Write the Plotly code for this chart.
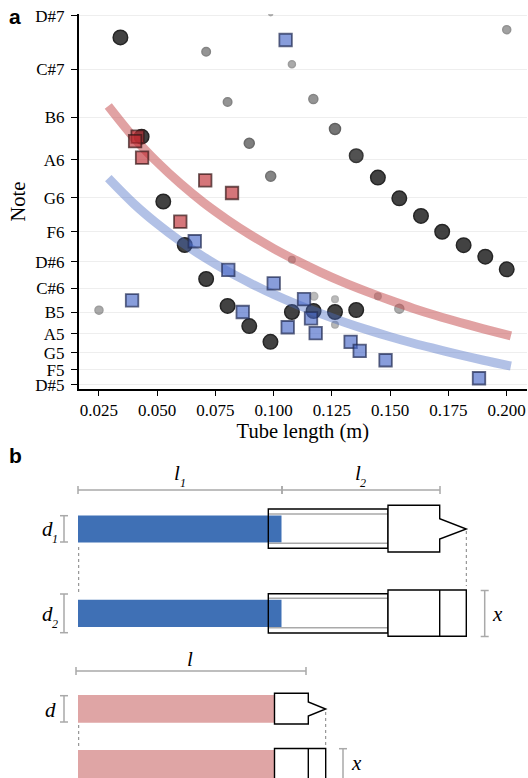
import plotly.graph_objects as go

# ---------- panel a data ----------
note_labels = ["D#5", "F5", "G5", "A5", "B5", "C#6", "D#6", "F6", "G6", "A6", "B6", "C#7", "D#7"]
note_freqs = [622, 698.5, 784, 880, 988, 1109, 1245, 1397, 1568, 1760, 1975.5, 2217.5, 2489]
length_ticks = [0.025, 0.05, 0.075, 0.1, 0.125, 0.15, 0.175, 0.2]

circle_x = [0.0342, 0.0433, 0.0526, 0.0618, 0.0710, 0.0802, 0.0895, 0.0986, 0.1078, 0.1171, 0.1263, 0.1354,
            0.1354, 0.1447, 0.1539, 0.1632, 0.1723, 0.1815, 0.1908, 0.2000,
            0.1263, 0.0987, 0.0895, 0.1170, 0.0802, 0.0710, 0.1078, 0.2000, 0.0250,
            0.1078, 0.1447, 0.1539, 0.1173, 0.1263, 0.1263, 0.0987]
circle_f = [2379, 1877, 1549, 1329, 1157, 1021, 919, 839, 990, 995, 990, 1000,
            1781, 1670, 1565, 1476, 1396, 1328, 1270, 1206,
            1916, 1677, 1844, 2068, 2052, 2307, 2243, 2418, 999,
            1255, 1070, 1007, 1070, 1055, 926, 2499]
circle_size = [14.5, 14.5, 14.5, 14.5, 14.5, 14.5, 14.5, 14.5, 14.5, 14.5, 14.5, 14.5,
               13.5, 14.5, 14.5, 14.5, 14.5, 14.5, 14.5, 14.5,
               11, 10, 10, 9, 8.5, 8.5, 7, 8, 8,
               6.5, 6.5, 9, 7.5, 6.5, 6.5, 4]
circle_alpha = [.85, .85, .85, .85, .85, .85, .85, .85, .85, .85, .85, .85,
                .78, .85, .85, .85, .85, .85, .85, .85,
                .62, .55, .58, .48, .48, .48, .38, .42, .38,
                .3, .3, .38, .3, .3, .32, .3]

blue_x = [0.1051, 0.0392, 0.0661, 0.0805, 0.0867, 0.1000, 0.1130, 0.1160, 0.1060, 0.1180, 0.1330, 0.1369, 0.1480, 0.1881]
blue_f = [2366, 1049, 1348, 1203, 990, 1135, 1055, 958, 913, 883, 839, 793, 746, 655]

red_x = [0.0416, 0.0405, 0.0435, 0.0706, 0.0821, 0.0599]
red_f = [1877, 1854, 1771, 1656, 1592, 1447]

curve_x = [0.029, 0.04, 0.05, 0.06, 0.07, 0.08, 0.09, 0.10, 0.11, 0.12, 0.13, 0.14, 0.15, 0.16, 0.17, 0.18, 0.19, 0.2018]
curve_red = [2032, 1872, 1748, 1639, 1542, 1457, 1380, 1311, 1249, 1192, 1140, 1093, 1049, 1008, 971, 937, 905, 869]
curve_blue = [1667, 1537, 1436, 1347, 1268, 1198, 1136, 1079, 1028, 982, 940, 901, 865, 832, 802, 773, 746, 717]

SERIF = "Liberation Serif"
W, H = 528, 778

fig = go.Figure()
fig.add_trace(go.Scatter(x=circle_x, y=circle_f, mode="markers",
                         marker=dict(symbol="circle", size=circle_size, color="#222222", opacity=circle_alpha,
                                     line=dict(color="#000000", width=1.5))))
fig.add_trace(go.Scatter(x=curve_x, y=curve_red, mode="lines", line=dict(color="rgba(196,70,72,0.5)", width=9, shape="spline")))
fig.add_trace(go.Scatter(x=curve_x, y=curve_blue, mode="lines", line=dict(color="rgba(72,108,196,0.42)", width=9, shape="spline")))
fig.add_trace(go.Scatter(x=blue_x, y=blue_f, mode="markers",
                         marker=dict(symbol="square", size=12.5, color="rgba(72,105,200,0.65)",
                                     line=dict(color="rgba(35,45,85,0.72)", width=1.8))))
fig.add_trace(go.Scatter(x=red_x, y=red_f, mode="markers",
                         marker=dict(symbol="square", size=12.5, color="rgba(190,45,50,0.65)",
                                     line=dict(color="rgba(55,25,25,0.72)", width=1.8))))

# ---------- panel b schematic, on a hidden overlay axis measured in picture units ----------
shapes = []


def line(x0, y0, x1, y1, color="#000000", width=1.4, dash="solid"):
    shapes.append(dict(type="line", xref="x2", yref="y2", x0=x0, y0=y0, x1=x1, y1=y1,
                       line=dict(color=color, width=width, dash=dash)))


def rect(x0, y0, x1, y1, fill=None, color="#000000", width=1.4):
    shapes.append(dict(type="rect", xref="x2", yref="y2", x0=x0, y0=y0, x1=x1, y1=y1,
                       fillcolor=fill if fill else "rgba(0,0,0,0)",
                       line=dict(color=color if width else "rgba(0,0,0,0)", width=width)))


def poly(points):
    path = "M " + " L ".join(f"{x} {y}" for x, y in points) + " Z"
    shapes.append(dict(type="path", xref="x2", yref="y2", path=path, fillcolor="#ffffff",
                       line=dict(color="#000000", width=1.4)))


GREY = "#a9a9a9"


def hdim(x0, x1, y):
    line(x0, y, x1, y, GREY, 1.5)
    line(x0, y - 4, x0, y + 4, GREY, 1.5)
    line(x1, y - 4, x1, y + 4, GREY, 1.5)


def vdim(x, y0, y1):
    line(x, y0, x, y1, GREY, 1.5)
    line(x - 4, y0, x + 4, y0, GREY, 1.5)
    line(x - 4, y1, x + 4, y1, GREY, 1.5)


BLUE = "#3f70b5"
PINK = "#dfa5a5"

# two-piece instrument
hdim(78, 282, 490)
hdim(282, 440, 490)
rect(78, 515.5, 281.5, 542.5, BLUE, width=0)
rect(78, 599.7, 281.5, 627, BLUE, width=0)
for y_out0, y_out1, y_in0, y_in1 in [(509, 548.3, 514, 543.3), (593.7, 633, 598.3, 627.7)]:
    line(268.3, y_in0, 388, y_in0, GREY, 1.4)
    line(268.3, y_in1, 388, y_in1, GREY, 1.4)
    rect(268.3, y_out0, 388, y_out1)
poly([(388, 505.3), (439.7, 505.3), (439.7, 518.7), (466.3, 529), (439.7, 539), (439.7, 552), (388, 552)])
rect(388, 590, 466.3, 636.3, "#ffffff")
line(439.7, 590, 439.7, 636.3)
vdim(64, 515.7, 542)
vdim(64, 594, 632.7)
vdim(484.7, 590.5, 636.5)
line(78.7, 547, 78.7, 595, "#808080", 1, "dot")
line(466.3, 531, 466.3, 586, "#808080", 1, "dot")

# one-piece instrument
hdim(76, 306, 671)
rect(78, 695, 274.5, 722.7, PINK, width=0)
rect(78, 750, 274.5, 780, PINK, width=0)
poly([(274.5, 693.3), (308.3, 693.3), (308.3, 702), (325.7, 709), (308.3, 716), (308.3, 724), (274.5, 724)])
rect(274.5, 748.5, 325.7, 785, "#ffffff")
line(308.3, 748.5, 308.3, 785)
vdim(64, 695.7, 722)
line(343, 748.7, 343, 785, GREY, 1.5)
line(339, 748.7, 347, 748.7, GREY, 1.5)
line(78.7, 725, 78.7, 747, "#808080", 1, "dot")
line(325.7, 712, 325.7, 747, "#808080", 1, "dot")

annotations = []


def label(text, x, y, size=21, family=SERIF):
    annotations.append(dict(text=text, x=x, y=y, xref="x2", yref="y2", showarrow=False,
                            font=dict(family=family, size=size, color="#000000"),
                            xanchor="center", yanchor="middle"))


label("<b>a</b>", 15, 16, 21, "Liberation Sans")
label("<b>b</b>", 15, 455, 21, "Liberation Sans")
label("<i>l</i>", 177, 473)
label("<i>1</i>", 183, 483, 12)
label("<i>l</i>", 358, 473)
label("<i>2</i>", 363, 483, 12)
label("<i>d</i>", 47, 529)
label("<i>1</i>", 55, 539, 12)
label("<i>d</i>", 47, 614)
label("<i>2</i>", 55, 624, 12)
label("<i>x</i>", 497, 614)
label("<i>l</i>", 190, 659)
label("<i>d</i>", 50, 710)
label("<i>x</i>", 356, 763)

fig.update_layout(
    width=W, height=H, autosize=False, showlegend=False,
    margin=dict(l=0, r=0, t=0, b=0),
    paper_bgcolor="#ffffff", plot_bgcolor="rgba(0,0,0,0)",
    font=dict(family=SERIF, color="#000000"),
    shapes=shapes, annotations=annotations,
    xaxis=dict(domain=[78.7 / W, 527 / W], range=[0.0163, 0.2087], tickvals=length_ticks, automargin=False,
               tickformat=".3f", showgrid=False, zeroline=False, showline=True, linecolor="#000000", linewidth=1.5,
               ticks="outside", ticklen=5, tickwidth=1.3, tickcolor="#000000", anchor="y",
               tickfont=dict(family=SERIF, size=17),
               title=dict(text="Tube length (m)", font=dict(family=SERIF, size=20.5), standoff=4)),
    yaxis=dict(domain=[(H - 389.3) / H, (H - 14) / H], range=[599, 2497.6], tickvals=note_freqs, ticktext=note_labels,
               automargin=False, ticklabelstandoff=3,
               showgrid=True, gridcolor="#eeeeee", gridwidth=1, zeroline=False, showline=True, linecolor="#000000",
               linewidth=1.5, ticks="outside", ticklen=6, tickwidth=1.3, tickcolor="#000000", anchor="x",
               tickfont=dict(family=SERIF, size=17),
               title=dict(text="Note", font=dict(family=SERIF, size=20.5), standoff=4)),
    xaxis2=dict(domain=[0, 1], range=[0, W], visible=False, anchor="y2", automargin=False),
    yaxis2=dict(domain=[0, 1], range=[H, 0], visible=False, anchor="x2", automargin=False),
)
# keep an (invisible) trace on the overlay axes so they are created
fig.add_trace(go.Scatter(x=[0], y=[0], xaxis="x2", yaxis="y2", mode="markers", marker=dict(opacity=0), hoverinfo="skip"))

fig.write_html("out.html", config=dict(displayModeBar=False),
               post_script="document.body.style.margin='0';document.body.style.overflow='hidden';")
